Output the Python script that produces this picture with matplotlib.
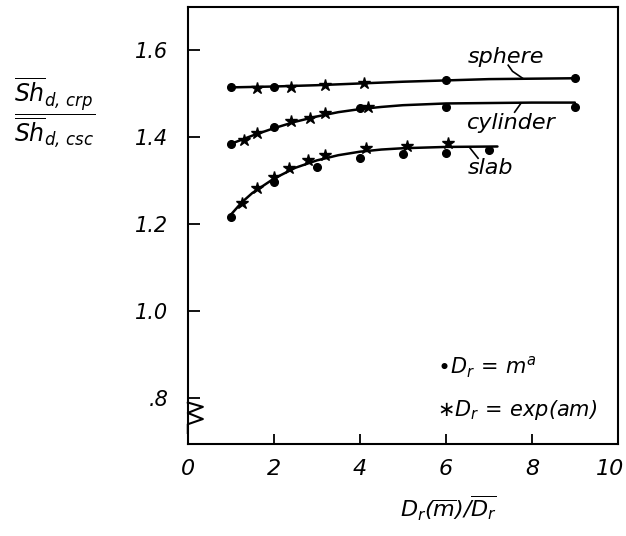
import matplotlib
matplotlib.use("Agg")
import matplotlib.pyplot as plt
from matplotlib.transforms import blended_transform_factory, ScaledTranslation

plt.rcParams['font.family'] = ['DejaVu Sans']
plt.rcParams['font.style'] = 'italic'
plt.rcParams['mathtext.fontset'] = 'dejavusans'

# measured points, D_r = m^a (circles)
sphere_dot_x = [1.0, 2.0, 6.0, 9.0]
sphere_dot_y = [1.515, 1.517, 1.531, 1.536]
cyl_dot_x = [1.0, 2.0, 4.0, 6.0, 9.0]
cyl_dot_y = [1.384, 1.425, 1.467, 1.470, 1.470]
slab_dot_x = [1.0, 2.0, 3.0, 4.0, 5.0, 6.0, 7.0]
slab_dot_y = [1.216, 1.297, 1.331, 1.352, 1.361, 1.365, 1.370]

# D_r = exp(am) (stars)
sphere_star_x = [1.6, 2.4, 3.2, 4.1]
sphere_star_y = [1.514, 1.516, 1.520, 1.524]
cyl_star_x = [1.3, 1.6, 2.4, 2.85, 3.2, 4.2]
cyl_star_y = [1.393, 1.409, 1.437, 1.444, 1.455, 1.471]
slab_star_x = [1.25, 1.6, 2.0, 2.35, 2.8, 3.2, 4.15, 5.1, 6.05]
slab_star_y = [1.248, 1.283, 1.308, 1.329, 1.347, 1.359, 1.375, 1.379, 1.386]

# fitted curves
sphere_fit_x = [1.0, 2.0, 3.0, 4.0, 5.0, 6.0, 7.0, 8.0, 9.0]
sphere_fit_y = [1.515, 1.517, 1.520, 1.524, 1.528, 1.531, 1.534, 1.535, 1.536]
cyl_fit_x = [1.0, 1.5, 2.0, 2.5, 3.0, 3.5, 4.0, 4.5, 5.0, 6.0, 7.0, 8.0, 9.0]
cyl_fit_y = [1.385, 1.404, 1.421, 1.436, 1.448, 1.458, 1.465, 1.470, 1.474, 1.478, 1.479, 1.480, 1.480]
slab_fit_x = [1.0, 1.25, 1.5, 2.0, 2.5, 3.0, 3.5, 4.0, 4.5, 5.0, 6.0, 7.2]
slab_fit_y = [1.222, 1.250, 1.272, 1.305, 1.330, 1.347, 1.359, 1.367, 1.372, 1.375, 1.378, 1.379]

x_ticks = [0, 2, 4, 6, 8, 10]
y_ticks = [0.8, 1.0, 1.2, 1.4, 1.6]
y_tick_labels = ['.8', '1.0', '1.2', '1.4', '1.6']

fig = plt.figure(figsize=(6.26, 5.36), dpi=100)
ax = fig.add_axes([0.300, 0.172, 0.687, 0.815])

for fx, fy in [(sphere_fit_x, sphere_fit_y), (cyl_fit_x, cyl_fit_y), (slab_fit_x, slab_fit_y)]:
    ax.plot(fx, fy, color='black', lw=1.8, solid_capstyle='round')
for dx, dy in [(sphere_dot_x, sphere_dot_y), (cyl_dot_x, cyl_dot_y), (slab_dot_x, slab_dot_y)]:
    ax.plot(dx, dy, 'o', color='black', ms=5.5, ls='none')
for sx, sy in [(sphere_star_x, sphere_star_y), (cyl_star_x, cyl_star_y), (slab_star_x, slab_star_y)]:
    ax.plot(sx, sy, '*', color='black', ms=9, ls='none')

ax.set_xlim(0, 10)
ax.set_ylim(0.695, 1.70)
ax.set_xticks(x_ticks)
ax.set_yticks(y_ticks)
ax.set_yticklabels(y_tick_labels)
ax.tick_params(axis='y', direction='in', length=8.5, width=1.3, pad=14, labelsize=15)
ax.tick_params(axis='x', direction='in', length=7, width=1.3, pad=11, labelsize=16)
for sp in ax.spines.values():
    sp.set_linewidth(1.5)

# keep the last x label inside the figure
last = ax.get_xticklabels()[-1]
last.set_ha('right')
last.set_transform(last.get_transform() + ScaledTranslation(6 / 100, 0, fig.dpi_scale_trans))

# axis break on the left spine
tr = blended_transform_factory(ax.transAxes, ax.transData)
ax.plot([0, 0.035, 0.0, 0.035, 0.0, 0.0],
        [0.790, 0.780, 0.766, 0.752, 0.740, 0.720],
        color='black', lw=1.5, transform=tr, clip_on=False)

# curve labels with leaders
ax.text(6.5, 1.584, 'sphere', fontsize=16, va='center', ha='left')
ax.plot([7.45, 7.55, 7.8], [1.566, 1.552, 1.535], color='black', lw=1.2)
ax.text(6.5, 1.432, 'cylinder', fontsize=16, va='center', ha='left')
ax.plot([7.75, 7.6], [1.479, 1.458], color='black', lw=1.2)
ax.text(6.5, 1.329, 'slab', fontsize=16, va='center', ha='left')
ax.plot([6.55, 6.75], [1.377, 1.352], color='black', lw=1.2)

# marker key
ax.text(5.8, 0.871, r'$\bullet D_r\,=\,m^a$', fontsize=15, va='center', ha='left')
ax.text(5.8, 0.772, r'$\ast D_r\,=\,\exp(am)$', fontsize=15, va='center', ha='left')

fig.text(448 / 626, 1 - 508 / 536, r'$D_r(\overline{m})/\overline{D_r}$',
         fontsize=16, ha='center', va='center')
fig.text(55 / 626, 1 - 113 / 536,
         r'$\dfrac{\overline{\mathit{Sh}}_{d,\,crp}}{\overline{\mathit{Sh}}_{d,\,csc}}$',
         fontsize=17, ha='center', va='center')

fig.savefig('out.png', dpi=100)
